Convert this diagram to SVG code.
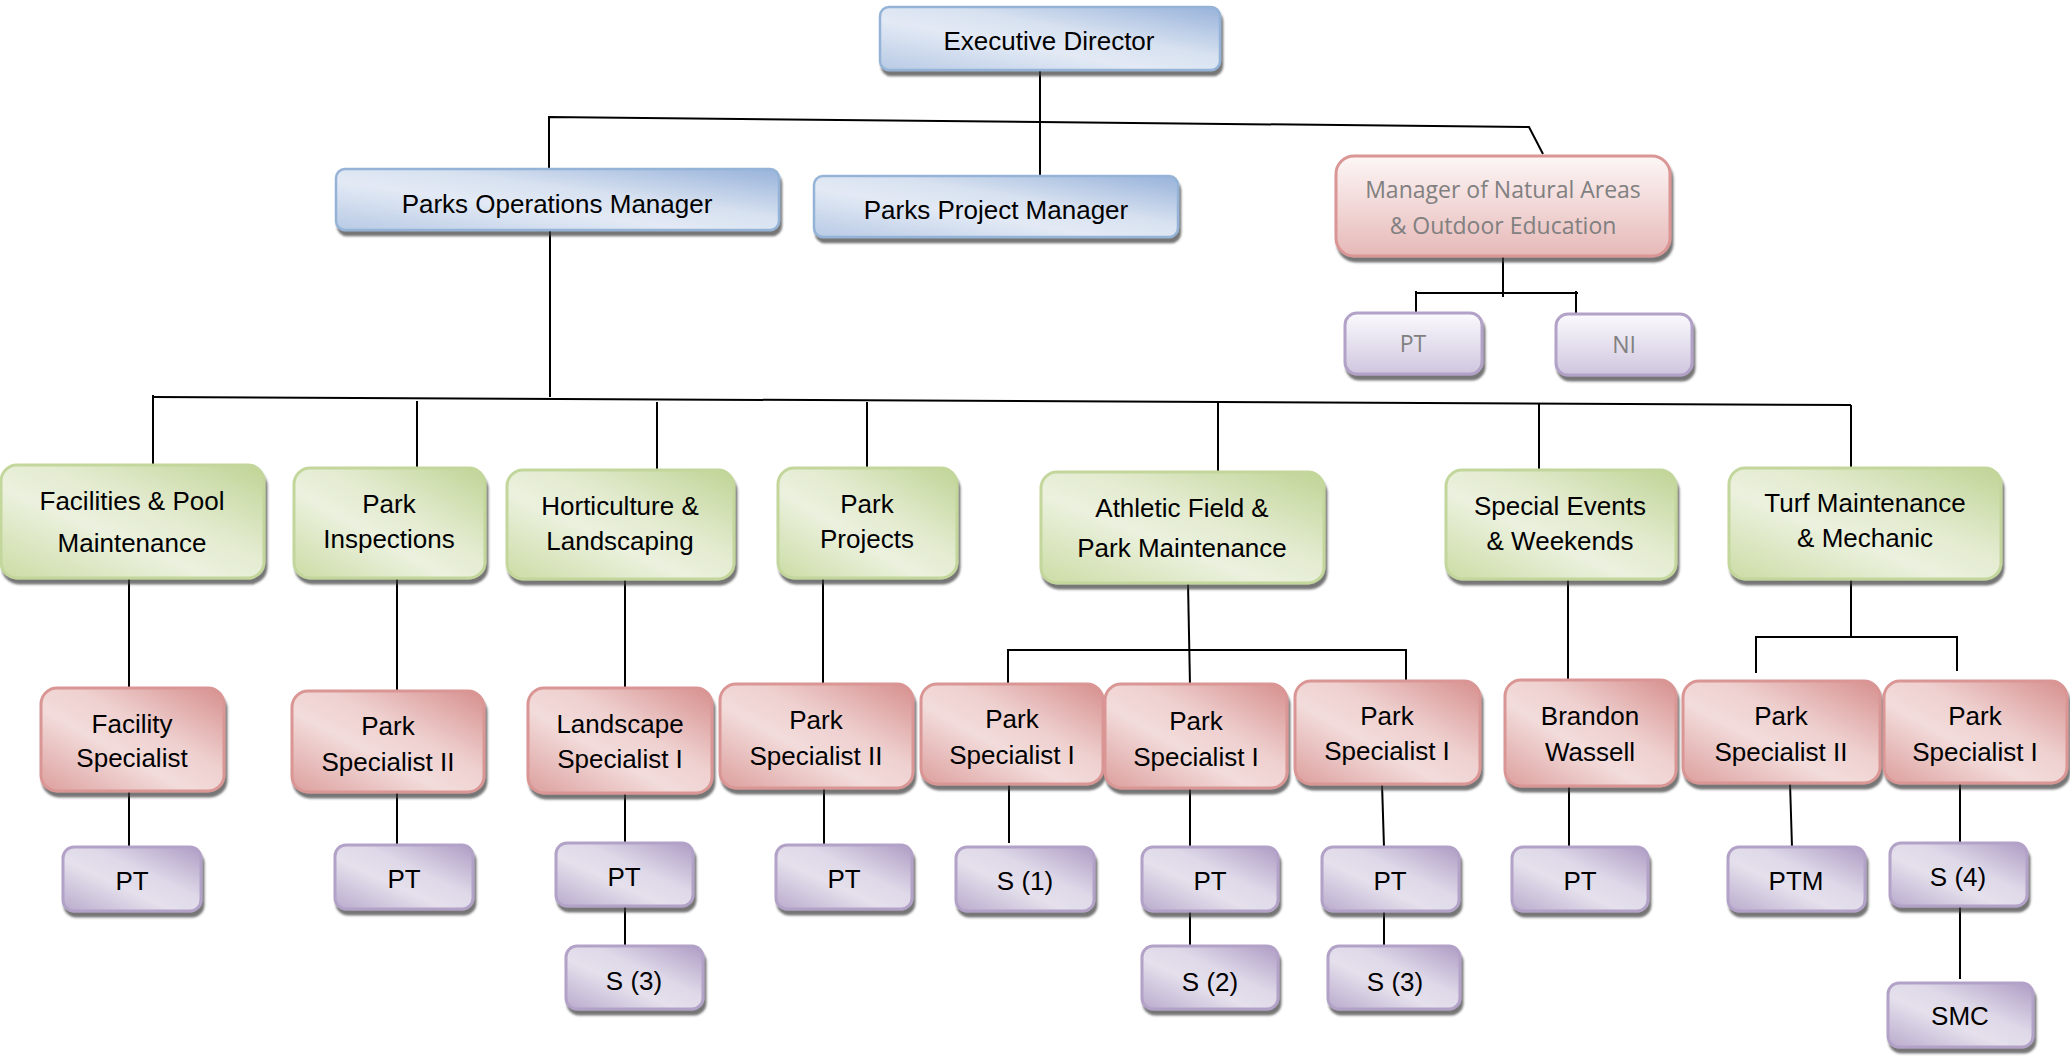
<svg xmlns="http://www.w3.org/2000/svg" width="2070" height="1063" viewBox="0 0 2070 1063">
<defs>
<linearGradient id="gBlue" x1="0" y1="1" x2="1" y2="0">
<stop offset="0" stop-color="#b8cae5"/><stop offset="0.4" stop-color="#e3eaf5"/><stop offset="0.6" stop-color="#d7e1f0"/><stop offset="1" stop-color="#97b2da"/>
</linearGradient>
<linearGradient id="gGreen" x1="0" y1="1" x2="1" y2="0">
<stop offset="0" stop-color="#ccdca5"/><stop offset="0.4" stop-color="#ebf1de"/><stop offset="0.6" stop-color="#e3ebcf"/><stop offset="1" stop-color="#bfd495"/>
</linearGradient>
<linearGradient id="gPink" x1="0" y1="1" x2="1" y2="0">
<stop offset="0" stop-color="#dc9f9d"/><stop offset="0.4" stop-color="#f2dcdb"/><stop offset="0.6" stop-color="#eed0cf"/><stop offset="1" stop-color="#d68f8d"/>
</linearGradient>
<linearGradient id="gPurple" x1="0" y1="1" x2="1" y2="0">
<stop offset="0" stop-color="#b9abcd"/><stop offset="0.4" stop-color="#e5e0ec"/><stop offset="0.6" stop-color="#ded8e8"/><stop offset="1" stop-color="#ae9cc4"/>
</linearGradient>
<linearGradient id="gPinkV" x1="0" y1="0" x2="0" y2="1">
<stop offset="0" stop-color="#fdf6f6"/><stop offset="1" stop-color="#e6b9b8"/>
</linearGradient>
<linearGradient id="gPurpleV" x1="0" y1="0" x2="0" y2="1">
<stop offset="0" stop-color="#fbfafd"/><stop offset="1" stop-color="#cfc6df"/>
</linearGradient>
<filter id="sh" x="-10%" y="-10%" width="125%" height="135%">
<feDropShadow dx="2" dy="5" stdDeviation="1" flood-color="#3a3a3a" flood-opacity="0.7"/>
</filter>
</defs>
<style>
.b{fill:url(#gBlue);stroke:#95b3d7;stroke-width:2.5;filter:url(#sh)}
.g{fill:url(#gGreen);stroke:#c3d69b;stroke-width:3;filter:url(#sh)}
.p{fill:url(#gPink);stroke:#d99694;stroke-width:3;filter:url(#sh)}
.u{fill:url(#gPurple);stroke:#b3a2c7;stroke-width:3;filter:url(#sh)}
.pv{fill:url(#gPinkV);stroke:#d99694;stroke-width:3;filter:url(#sh)}
.uv{fill:url(#gPurpleV);stroke:#b3a2c7;stroke-width:3;filter:url(#sh)}
text{font-family:"Liberation Sans",Arial,sans-serif;font-size:26px;fill:#000;text-anchor:middle}
text.gr{font-family:"Open Sans","Liberation Sans",sans-serif;font-size:23px;fill:#808080}
.c path{fill:none;stroke:#000;stroke-width:2}
</style>
<rect width="2070" height="1063" fill="#fff"/>

<g class="c" id="connectors">
<path d="M1040,70 V176"/>
<path d="M549,169 V117 L1529,127 L1543,154"/>
<path d="M550,231 V397"/>
<path d="M153,465 V395"/>
<path d="M153,397 L1851,405"/>
<path d="M417,401 V468"/>
<path d="M657,402 V470"/>
<path d="M867,402 V468"/>
<path d="M1218,403 V472"/>
<path d="M1539,404 V470"/>
<path d="M1851,405 V468"/>
<path d="M1503,257 V297"/>
<path d="M1416,313 V291"/>
<path d="M1416,293 H1578"/>
<path d="M1576,291 V314"/>
<path d="M129,578 V688"/>
<path d="M397,578 V691"/>
<path d="M625,579 V688"/>
<path d="M823,578 V684"/>
<path d="M1188,583 L1190,685"/>
<path d="M1008,685 V650 H1406 V680"/>
<path d="M1568,579 V680"/>
<path d="M1851,579 V637"/>
<path d="M1756,673 V637 H1957 V671"/>
<path d="M129,791 V847"/>
<path d="M397,792 V845"/>
<path d="M625,793 V843"/>
<path d="M625,906 V946"/>
<path d="M824,788 V845"/>
<path d="M1009,784 V843"/>
<path d="M1190,788 V847"/>
<path d="M1190,911 V946"/>
<path d="M1382,784 L1384,847"/>
<path d="M1384,911 V946"/>
<path d="M1569,786 V847"/>
<path d="M1790,783 L1792,847"/>
<path d="M1960,783 V843"/>
<path d="M1960,906 V979"/>
</g>

<g id="n-exec"><rect class="b" x="880" y="7" width="340" height="63" rx="9"/><text x="1049" y="50">Executive Director</text></g>
<g id="n-pom"><rect class="b" x="336" y="169" width="443" height="61" rx="9"/><text x="557" y="213">Parks Operations Manager</text></g>
<g id="n-ppm"><rect class="b" x="814" y="176" width="364" height="61" rx="9"/><text x="996" y="219">Parks Project Manager</text></g>
<g id="n-na"><rect class="pv" x="1336" y="156" width="334" height="100" rx="18"/><text class="gr" x="1503" y="198">Manager of Natural Areas</text><text class="gr" x="1503" y="234">&amp; Outdoor Education</text></g>
<g id="n-na-pt"><rect class="uv" x="1345" y="313" width="137" height="61" rx="12"/><text class="gr" x="1413" y="352">PT</text></g>
<g id="n-na-ni"><rect class="uv" x="1556" y="314" width="136" height="61" rx="12"/><text class="gr" x="1624" y="353">NI</text></g>

<g id="n-fac"><rect class="g" x="1" y="465" width="263" height="113" rx="16"/><text x="132" y="510">Facilities &amp; Pool</text><text x="132" y="552">Maintenance</text></g>
<g id="n-insp"><rect class="g" x="294" y="468" width="191" height="110" rx="16"/><text x="389" y="513">Park</text><text x="389" y="548">Inspections</text></g>
<g id="n-hort"><rect class="g" x="507" y="470" width="227" height="109" rx="16"/><text x="620" y="515">Horticulture &amp;</text><text x="620" y="550">Landscaping</text></g>
<g id="n-proj"><rect class="g" x="778" y="468" width="179" height="110" rx="16"/><text x="867" y="513">Park</text><text x="867" y="548">Projects</text></g>
<g id="n-ath"><rect class="g" x="1041" y="472" width="283" height="111" rx="16"/><text x="1182" y="517">Athletic Field &amp;</text><text x="1182" y="557">Park Maintenance</text></g>
<g id="n-se"><rect class="g" x="1446" y="470" width="230" height="109" rx="16"/><text x="1560" y="515">Special Events</text><text x="1560" y="550">&amp; Weekends</text></g>
<g id="n-turf"><rect class="g" x="1729" y="468" width="272" height="111" rx="16"/><text x="1865" y="512">Turf Maintenance</text><text x="1865" y="547">&amp; Mechanic</text></g>

<g id="n-facspec"><rect class="p" x="41" y="688" width="183" height="103" rx="16"/><text x="132" y="733">Facility</text><text x="132" y="767">Specialist</text></g>
<g id="n-ps2-insp"><rect class="p" x="292" y="691" width="192" height="101" rx="16"/><text x="388" y="735">Park</text><text x="388" y="771">Specialist II</text></g>
<g id="n-land"><rect class="p" x="528" y="688" width="184" height="105" rx="16"/><text x="620" y="733">Landscape</text><text x="620" y="768">Specialist I</text></g>
<g id="n-ps2-proj"><rect class="p" x="720" y="684" width="193" height="104" rx="16"/><text x="816" y="729">Park</text><text x="816" y="765">Specialist II</text></g>
<g id="n-ps1-a"><rect class="p" x="921" y="684" width="182" height="100" rx="16"/><text x="1012" y="728">Park</text><text x="1012" y="764">Specialist I</text></g>
<g id="n-ps1-b"><rect class="p" x="1105" y="684" width="182" height="104" rx="16"/><text x="1196" y="730">Park</text><text x="1196" y="766">Specialist I</text></g>
<g id="n-ps1-c"><rect class="p" x="1295" y="681" width="185" height="103" rx="16"/><text x="1387" y="725">Park</text><text x="1387" y="760">Specialist I</text></g>
<g id="n-brandon"><rect class="p" x="1505" y="680" width="171" height="106" rx="16"/><text x="1590" y="725">Brandon</text><text x="1590" y="761">Wassell</text></g>
<g id="n-ps2-turf"><rect class="p" x="1683" y="681" width="197" height="102" rx="16"/><text x="1781" y="725">Park</text><text x="1781" y="761">Specialist II</text></g>
<g id="n-ps1-turf"><rect class="p" x="1884" y="681" width="183" height="102" rx="16"/><text x="1975" y="725">Park</text><text x="1975" y="761">Specialist I</text></g>

<g id="n-pt-fac"><rect class="u" x="63" y="847" width="138" height="64" rx="11"/><text x="132" y="890">PT</text></g>
<g id="n-pt-insp"><rect class="u" x="335" y="845" width="138" height="64" rx="11"/><text x="404" y="888">PT</text></g>
<g id="n-pt-land"><rect class="u" x="556" y="843" width="137" height="63" rx="11"/><text x="624" y="886">PT</text></g>
<g id="n-s3-land"><rect class="u" x="566" y="946" width="137" height="63" rx="11"/><text x="634" y="990">S (3)</text></g>
<g id="n-pt-proj"><rect class="u" x="776" y="845" width="136" height="64" rx="11"/><text x="844" y="888">PT</text></g>
<g id="n-s1"><rect class="u" x="956" y="847" width="138" height="64" rx="11"/><text x="1025" y="890">S (1)</text></g>
<g id="n-pt-b"><rect class="u" x="1142" y="847" width="136" height="64" rx="11"/><text x="1210" y="890">PT</text></g>
<g id="n-s2"><rect class="u" x="1142" y="946" width="136" height="63" rx="11"/><text x="1210" y="991">S (2)</text></g>
<g id="n-pt-c"><rect class="u" x="1322" y="847" width="137" height="64" rx="11"/><text x="1390" y="890">PT</text></g>
<g id="n-s3-c"><rect class="u" x="1328" y="946" width="132" height="63" rx="11"/><text x="1395" y="991">S (3)</text></g>
<g id="n-pt-brandon"><rect class="u" x="1512" y="847" width="136" height="64" rx="11"/><text x="1580" y="890">PT</text></g>
<g id="n-ptm"><rect class="u" x="1728" y="847" width="137" height="64" rx="11"/><text x="1796" y="890">PTM</text></g>
<g id="n-s4"><rect class="u" x="1890" y="843" width="137" height="63" rx="11"/><text x="1958" y="886">S (4)</text></g>
<g id="n-smc"><rect class="u" x="1888" y="983" width="145" height="64" rx="11"/><text x="1960" y="1025">SMC</text></g>
</svg>
